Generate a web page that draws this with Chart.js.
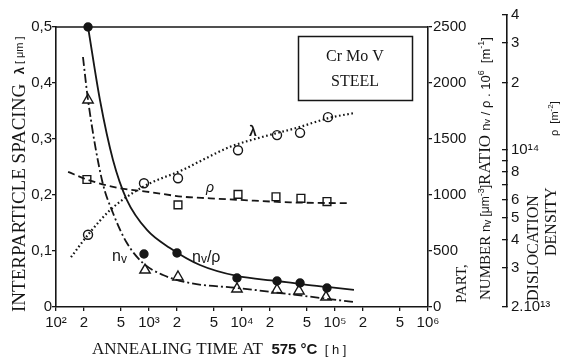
<!DOCTYPE html>
<html>
<head>
<meta charset="utf-8">
<script src="https://cdn.jsdelivr.net/npm/chart.js@4"></script>
<style>
  html, body { margin: 0; padding: 0; background: #fff; }
</style>
</head>
<body>
<canvas id="grafico" width="561" height="362"></canvas>
<script>
// ── Dados (tempo de recozimento em h) ──
// espaçamento entre partículas λ [µm]
const tempoLambda = [221, 883, 2050, 9060, 23800, 42100, 84100];
const lambda      = [0.129, 0.221, 0.230, 0.280, 0.307, 0.311, 0.339];
const tempoLambdaCurva = [145, 221, 381, 673, 1025, 2320, 3810, 7430, 16800, 39000, 88300, 156000];
const lambdaCurva      = [0.089, 0.129, 0.173, 0.204, 0.221, 0.245, 0.263, 0.286, 0.304, 0.320, 0.338, 0.346];

// densidade de discordâncias ρ [m^-2]
const tempoRho = [215, 2050, 9060, 23200, 43000, 82000];
const rho      = [7.4e13, 5.7e13, 6.35e13, 6.2e13, 6.1e13, 5.9e13];
const tempoRhoCurva = [135, 215, 453, 1025, 2320, 4530, 9500, 32800, 134600];
const rhoCurva      = [8.0e13, 7.4e13, 6.8e13, 6.5e13, 6.2e13, 6.1e13, 6.0e13, 5.85e13, 5.8e13];

// razão nv/ρ . 10^6
const tempoRazao = [221, 883, 2000, 8830, 23800, 42100, 82000];
const razao      = [2500, 473, 482, 259, 232, 214, 170];
const tempoRazaoCurva = [221, 297, 410, 579, 951, 1680, 3530, 8830, 23800, 42100, 82000, 160000];
const razaoCurva      = [2500, 1848, 1313, 955, 688, 527, 375, 277, 232, 205, 179, 152];

// número de partículas nv [µm^-3]
const tempoNv = [221, 906, 2050, 8830, 23800, 41000, 80000];
const nv      = [1848, 330, 268, 161, 152, 143, 89];
const tempoNvCurva = [195, 221, 312, 410, 579, 861, 1415, 2760, 8830, 25600, 156000];
const nvCurva      = [2232, 1848, 1134, 839, 571, 393, 286, 214, 170, 125, 45];

// eixos
const ticksTempo   = [1e2, 2e2, 5e2, 1e3, 2e3, 5e3, 1e4, 2e4, 5e4, 1e5, 2e5, 5e5, 1e6];
const rotulosTempo = ["10²", "2", "5", "10³", "2", "5", "10⁴", "2", "5", "10⁵", "2", "5", "10⁶"];
const ticksLambda  = [0, 0.1, 0.2, 0.3, 0.4, 0.5];
const ticksNv      = [0, 500, 1000, 1500, 2000, 2500];
const ticksRho     = [2e13, 3e13, 4e13, 5e13, 6e13, 7e13, 8e13, 9e13, 1e14, 2e14, 3e14, 4e14];
const rotulosRho   = ["2.10¹³", "3", "4", "5", "6", "", "8", "", "10¹⁴", "2", "3", "4"];

const PRETO = "#161616";
const SANS  = "'Liberation Sans', Arial, sans-serif";
const SERIF = "'Liberation Serif', 'Times New Roman', serif";

const pontos = (xs, ys) => xs.map((x, i) => ({ x, y: ys[i] }));

function curva(xs, ys, eixo, dash, largura) {
    return {
        data: pontos(xs, ys), yAxisID: eixo,
        borderColor: PRETO, borderWidth: largura, borderDash: dash,
        pointRadius: 0, cubicInterpolationMode: "monotone", fill: false, clip: false,
    };
}

function marcas(xs, ys, eixo, estilo, raio, preenchido) {
    return {
        data: pontos(xs, ys), yAxisID: eixo, showLine: false,
        pointStyle: estilo, pointRadius: raio,
        pointBackgroundColor: preenchido ? PRETO : "#fff",
        pointBorderColor: PRETO, pointBorderWidth: 1.4, clip: false,
    };
}

// texto com trechos de fontes diferentes (índices, expoentes)
function escreverTrechos(ctx, x, y, trechos) {
    let cx = x;
    trechos.forEach(t => {
        ctx.font = t.f;
        ctx.fillText(t.s, cx, y + (t.dy || 0));
        cx += ctx.measureText(t.s).width;
    });
    return cx - x;
}

function vertical(ctx, x, y, trechos) {
    ctx.save();
    ctx.translate(x, y);
    ctx.rotate(-Math.PI / 2);
    escreverTrechos(ctx, 0, 0, trechos);
    ctx.restore();
}

const decoracao = {
    id: "decoracao",
    afterLayout(chart) {
        // o eixo de ρ passa um pouco acima da moldura
        const s = chart.scales.rho;
        s.top = 15;
        s.configure();
    },
    afterDraw(chart) {
        const { ctx, chartArea: a, scales } = chart;
        const px = t => scales.x.getPixelForValue(t);
        const py = v => scales.y.getPixelForValue(v);
        ctx.save();
        ctx.fillStyle = PRETO;
        ctx.strokeStyle = PRETO;

        // moldura superior
        ctx.lineWidth = 1.6;
        ctx.beginPath();
        ctx.moveTo(a.left, a.top);
        ctx.lineTo(a.right, a.top);
        ctx.stroke();

        // caixa do material
        ctx.lineWidth = 1.5;
        ctx.strokeRect(298.5, 36.5, 114, 64);
        ctx.textAlign = "center";
        ctx.textBaseline = "middle";
        ctx.font = `16px ${SERIF}`;
        ctx.fillText("Cr Mo V", 355, 57);
        ctx.fillText("STEEL", 355, 82);

        // rótulos das curvas
        ctx.font = `bold 14px ${SANS}`;
        ctx.fillText("λ", px(13100), py(0.3125));
        ctx.font = `italic 14px ${SANS}`;
        ctx.fillText("ρ", px(4520), py(0.2125));
        ctx.textAlign = "left";
        escreverTrechos(ctx, px(400), py(0.09), [
            { s: "n", f: `16px ${SANS}` }, { s: "v", f: `12px ${SANS}`, dy: 3 }]);
        escreverTrechos(ctx, px(2900), py(0.089), [
            { s: "n", f: `16px ${SANS}` }, { s: "v", f: `12px ${SANS}`, dy: 3 },
            { s: "/ρ", f: `16px ${SANS}` }]);

        // títulos dos eixos
        vertical(ctx, 20, 312, [
            { s: "INTERPARTICLE SPACING  ", f: `19px ${SERIF}` },
            { s: "λ", f: `bold 13px ${SANS}` },
            { s: " [ μm ]", f: `11px ${SANS}` }]);
        escreverTrechos(ctx, 92, 350, [
            { s: "ANNEALING TIME AT  ", f: `17px ${SERIF}` },
            { s: "575 °C", f: `bold 15px ${SANS}` },
            { s: "  [ h ]", f: `13px ${SANS}` }]);
        vertical(ctx, 462, 303, [{ s: "PART,", f: `15px ${SERIF}` }]);
        vertical(ctx, 486, 300, [
            { s: "NUMBER ", f: `15px ${SERIF}` },
            { s: "n", f: `13px ${SANS}` }, { s: "v", f: `10px ${SANS}`, dy: 2 },
            { s: " [μm", f: `12px ${SANS}` }, { s: "-3", f: `9px ${SANS}`, dy: -4 },
            { s: "]", f: `12px ${SANS}` },
            { s: "RATIO ", f: `17px ${SERIF}` },
            { s: "n", f: `13px ${SANS}` }, { s: "v", f: `9px ${SANS}`, dy: 2 },
            { s: " / ρ . 10", f: `13px ${SANS}` }, { s: "6", f: `9px ${SANS}`, dy: -4 },
            { s: "  [m", f: `13px ${SANS}` }, { s: "-1", f: `9px ${SANS}`, dy: -4 },
            { s: "]", f: `13px ${SANS}` }]);
        vertical(ctx, 534, 301, [{ s: "DISLOCATION", f: `16px ${SERIF}` }]);
        vertical(ctx, 552, 256, [{ s: "DENSITY", f: `16px ${SERIF}` }]);
        vertical(ctx, 555, 136, [
            { s: "ρ  [m", f: `11px ${SANS}` }, { s: "-2", f: `8px ${SANS}`, dy: -4 },
            { s: "]", f: `11px ${SANS}` }]);
        ctx.restore();
    }
};

const fonteTicks = { family: SANS, size: 15 };

new Chart(document.getElementById("grafico"), {
    type: "line",
    data: {
        datasets: [
            curva(tempoLambdaCurva, lambdaCurva, "y", [1.6, 2.6], 2.2),
            marcas(tempoLambda, lambda, "y", "circle", 4.5, false),
            curva(tempoRhoCurva, rhoCurva, "rho", [7, 4], 1.8),
            marcas(tempoRho, rho, "rho", "rect", 5.5, false),
            curva(tempoRazaoCurva, razaoCurva, "n", [], 1.8),
            marcas(tempoRazao, razao, "n", "circle", 4, true),
            curva(tempoNvCurva, nvCurva, "n", [9, 3, 2, 3], 1.8),
            marcas(tempoNv, nv, "n", "triangle", 6, false),
        ]
    },
    options: {
        responsive: false,
        animation: false,
        devicePixelRatio: 1,
        layout: { padding: { top: 27, left: 0, right: 0, bottom: 0 } },
        plugins: { legend: { display: false }, tooltip: { enabled: false } },
        scales: {
            x: {
                type: "logarithmic", position: "bottom", min: 100, max: 1e6,
                afterBuildTicks: s => { s.ticks = ticksTempo.map(v => ({ value: v })); },
                afterFit: s => { s.height = 55; },
                ticks: { autoSkip: false, maxRotation: 0, padding: 3, color: PRETO, font: fonteTicks,
                         callback: (v, i) => rotulosTempo[i] },
                grid: { drawOnChartArea: false, tickLength: 4, color: PRETO, lineWidth: 1.3 },
                border: { color: PRETO, width: 1.6 },
            },
            y: {
                type: "linear", position: "left", min: 0, max: 0.5,
                afterBuildTicks: s => { s.ticks = ticksLambda.map(v => ({ value: v })); },
                afterFit: s => { s.width = 56; },
                ticks: { padding: 0, color: PRETO, font: fonteTicks,
                         callback: v => v === 0 ? "0" : v.toFixed(1).replace(".", ",") },
                grid: { drawOnChartArea: false, tickLength: 4, color: PRETO, lineWidth: 1.3 },
                border: { color: PRETO, width: 1.6 },
            },
            n: {
                type: "linear", position: "right", min: 0, max: 2500,
                afterBuildTicks: s => { s.ticks = ticksNv.map(v => ({ value: v })); },
                afterFit: s => { s.width = 79; },
                ticks: { padding: 1, color: PRETO, font: fonteTicks, callback: v => String(v) },
                grid: { drawOnChartArea: false, tickLength: 4, color: PRETO, lineWidth: 1.3 },
                border: { color: PRETO, width: 1.6 },
            },
            rho: {
                type: "logarithmic", position: "right", min: 2e13, max: 4e14,
                afterBuildTicks: s => { s.ticks = ticksRho.map(v => ({ value: v })); },
                afterFit: s => { s.width = 54; },
                ticks: { autoSkip: false, padding: 9, color: PRETO, font: fonteTicks,
                         callback: (v, i) => rotulosRho[i] },
                grid: { drawOnChartArea: false, tickLength: -5, color: PRETO, lineWidth: 1.3 },
                border: { color: PRETO, width: 1.6 },
            },
        }
    },
    plugins: [decoracao]
});
</script>
</body>
</html>
